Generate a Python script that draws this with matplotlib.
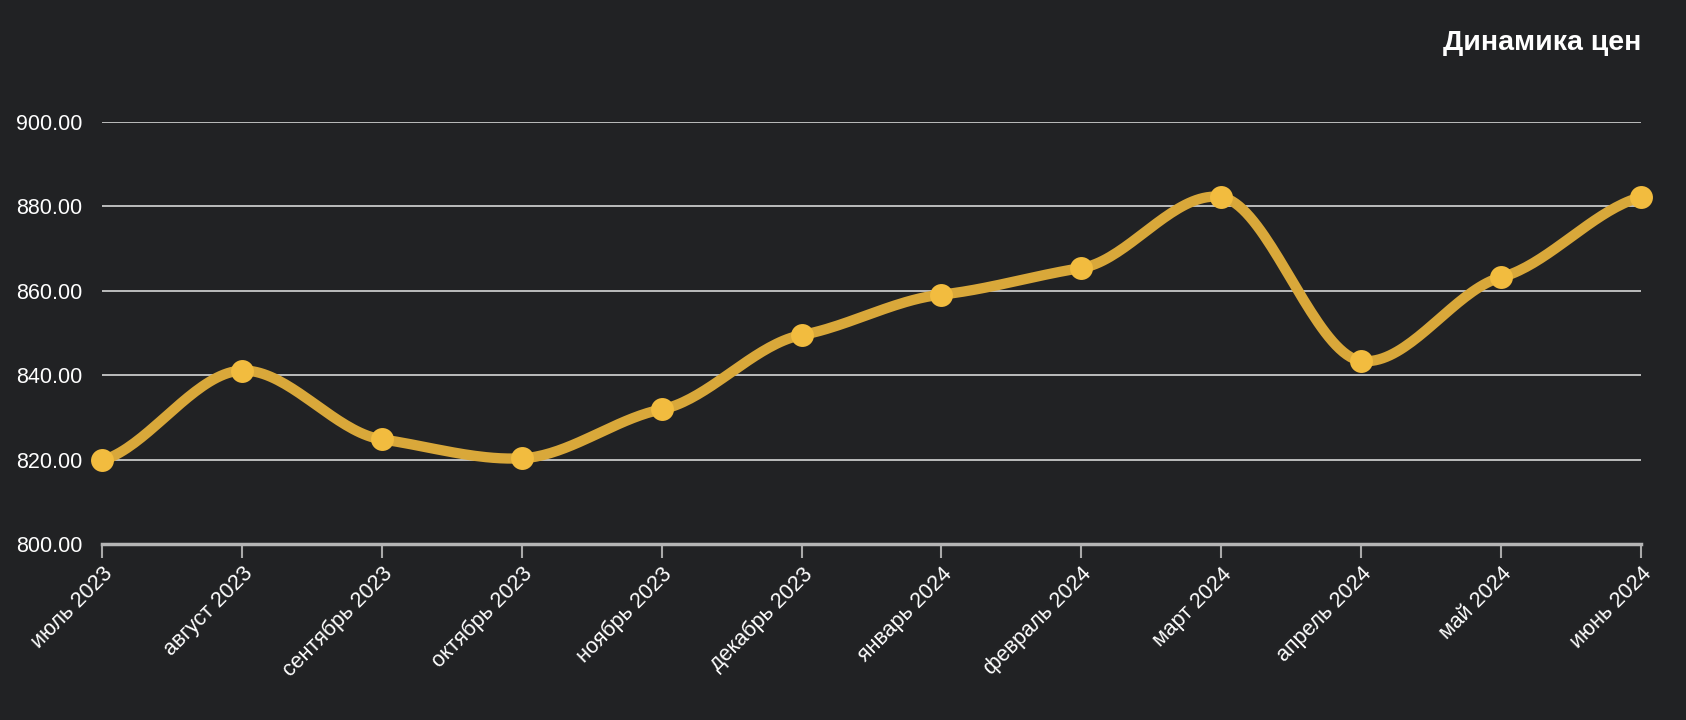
import numpy as np
from matplotlib import pyplot as plt

# =============================================================================
# Data
# =============================================================================
months = ['июль 2023', 'август 2023', 'сентябрь 2023', 'октябрь 2023',
          'ноябрь 2023', 'декабрь 2023', 'январь 2024', 'февраль 2024',
          'март 2024', 'апрель 2024', 'май 2024', 'июнь 2024']
prices = [819.8, 841.1, 824.8, 820.3, 831.9, 849.5,
          859.1, 865.4, 882.2, 843.4, 863.2, 882.2]
yticks = [800, 820, 840, 860, 880, 900]
title = 'Динамика цен'

BG = '#212224'
LINE = '#d9a83a'
DOT = '#f2bc3f'


# Smooth curve through the points, tangents damped (cardinal-like)
def smooth(x, y, k=0.45, n=40):
    x = np.asarray(x, float)
    y = np.asarray(y, float)
    h = np.diff(x)
    t = np.zeros(len(x))
    t[1:-1] = (y[2:] - y[:-2]) / (x[2:] - x[:-2])
    t[0] = (y[1] - y[0]) / h[0]
    t[-1] = (y[-1] - y[-2]) / h[-1]
    t = t * k
    xs, ys = [], []
    for i in range(len(x) - 1):
        u = np.linspace(0, 1, n)
        h00 = 2*u**3 - 3*u**2 + 1
        h10 = u**3 - 2*u**2 + u
        h01 = -2*u**3 + 3*u**2
        h11 = u**3 - u**2
        xs.append(x[i] + u*h[i])
        ys.append(h00*y[i] + h10*h[i]*t[i] + h01*y[i+1] + h11*h[i]*t[i+1])
    return np.concatenate(xs), np.concatenate(ys)


plt.rcParams['font.family'] = ['Liberation Sans', 'DejaVu Sans']

fig = plt.figure(figsize=(16.86, 7.2), dpi=100, facecolor=BG)
ax = fig.add_axes([102/1686, 1 - 544/720, (1641 - 102)/1686, (544 - 122)/720])
ax.set_facecolor(BG)

xi = np.arange(len(months))
cx, cy = smooth(xi, prices)

for v in yticks[1:]:
    ax.axhline(v, color='#e6e6e6', lw=1.1, zorder=1)

ax.plot(cx, cy, color=LINE, lw=7.4, solid_capstyle='round', zorder=3, clip_on=False)
ax.plot(xi, prices, 'o', color=DOT, ms=16.5, mec='none', zorder=4, clip_on=False)

ax.set_xlim(0, len(months) - 1)
ax.set_ylim(800, 900)

ax.set_yticks(yticks)
ax.set_yticklabels(['%.2f' % v for v in yticks])
ax.set_xticks(xi)
ax.set_xticklabels(months, rotation=45, ha='right', va='top', rotation_mode='anchor')

ax.tick_params(axis='y', length=0, pad=14, labelsize=15.5, labelcolor='white')
ax.tick_params(axis='x', length=10, width=1.5, color='#aaaaaa', pad=4,
               labelsize=15.5, labelcolor='white')

for side in ['top', 'right', 'left']:
    ax.spines[side].set_visible(False)
ax.spines['bottom'].set_color('#b5b5b5')
ax.spines['bottom'].set_linewidth(2.5)

fig.text(1641/1686, 1 - 43/720, title, ha='right', va='center',
         fontsize=20.5, fontweight='bold', color='white')

plt.savefig('out.png', dpi=100, facecolor=BG)
